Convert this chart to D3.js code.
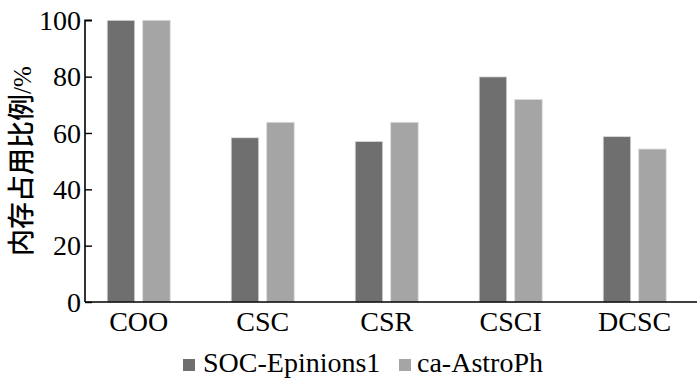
<!DOCTYPE html>
<html>
<head>
<meta charset="utf-8">
<script src="https://d3js.org/d3.v7.min.js"></script>
</head>
<body style="margin:0">
<svg id="chart" width="700" height="383"></svg>
<script>
const categories = ["COO", "CSC", "CSR", "CSCI", "DCSC"];
const seriesNames = ["SOC-Epinions1", "ca-AstroPh"];
const socEpinions = [100, 58.3, 57.0, 79.9, 58.7];
const caAstroPh = [100, 63.8, 63.8, 71.9, 54.3];
const yTicks = [0, 20, 40, 60, 80, 100];
const colors = ["#6f6f6f", "#a5a5a5"];
const yLabel = "内存占用比例";
const yUnit = "/%";

const seriesValues = [socEpinions, caAstroPh];
const svg = d3.select("#chart").style("font-family", '"Liberation Serif"');
const serifF = d => '"Liberation Serif"';

const x0 = d3.scaleBand().domain(categories).range([76.7, 696.7]).padding(0);
const x1 = d3.scaleBand().domain(seriesNames).range([x0.bandwidth()/2 - 31.5, x0.bandwidth()/2 + 31.5]).paddingInner(0.225).paddingOuter(0);
const y = d3.scaleLinear().domain([0, 100]).range([302, 20.3]);

// bars
const groups = svg.append("g").selectAll("g").data(categories).join("g")
  .attr("transform", d => `translate(${x0(d)},0)`);
groups.selectAll("rect")
  .data((c, i) => seriesNames.map((s, j) => ({s, v: seriesValues[j][i], j})))
  .join("rect")
  .attr("x", d => x1(d.s))
  .attr("width", x1.bandwidth())
  .attr("y", d => y(d.v))
  .attr("height", d => y(0) - y(d.v))
  .attr("fill", d => colors[d.j])
  .attr("stroke", "#dcdcdc")
  .attr("stroke-width", 0.8);

// y axis
const yAxis = d3.axisRight(y).tickValues(yTicks).tickSize(7).tickFormat("");
const gy = svg.append("g").attr("transform", "translate(85,0)").call(yAxis);
gy.select(".domain").attr("stroke", "#000").attr("stroke-width", 1.6).attr("d", `M7,${y(100)}H0V${y(0)}`);
gy.selectAll(".tick line").attr("stroke", "#000").attr("stroke-width", 1.4);
svg.append("g").selectAll("text").data(yTicks).join("text")
  .attr("x", 81).attr("y", d => y(d)).attr("dy", "0.34em")
  .attr("text-anchor", "end")
  .style("font-family", serifF).style("font-size", "28px")
  .text(d => d);

// x axis (labels drawn from the band scale)
const gx = svg.append("g").attr("transform", `translate(0,${y(0)})`);
gx.append("path").attr("stroke", "#000").attr("stroke-width", 1.6).attr("fill", "none").attr("d", `M85,0H697`);
gx.selectAll("text").data(categories).join("text")
  .attr("x", d => x0(d) + x0.bandwidth() / 2).attr("y", 29)
  .attr("text-anchor", "middle")
  .style("font-family", serifF).style("font-size", "28px")
  .text(d => d);

// y label
const yl = svg.append("text")
  .attr("transform", "translate(31,161) rotate(-90)")
  .attr("text-anchor", "middle")
  .attr("fill", "#000");
yl.append("tspan").style("font-family", '"Noto Sans CJK SC"').style("font-size", "27px").style("font-weight", "500").text(yLabel);
yl.append("tspan").style("font-family", serifF).style("font-size", "25px").text(yUnit);

// legend
const legendX = [183, 399];
const leg = svg.append("g").selectAll("g").data(seriesNames).join("g")
  .attr("transform", (d, i) => `translate(${legendX[i]},359)`);
leg.append("rect").attr("width", 12).attr("height", 12).attr("fill", (d, i) => colors[i]);
leg.append("text").attr("x", (d, i) => i === 0 ? 20 : 18).attr("y", 12.5)
  .style("font-family", serifF).style("font-size", "28px")
  .text(d => d);
</script>
</body>
</html>
